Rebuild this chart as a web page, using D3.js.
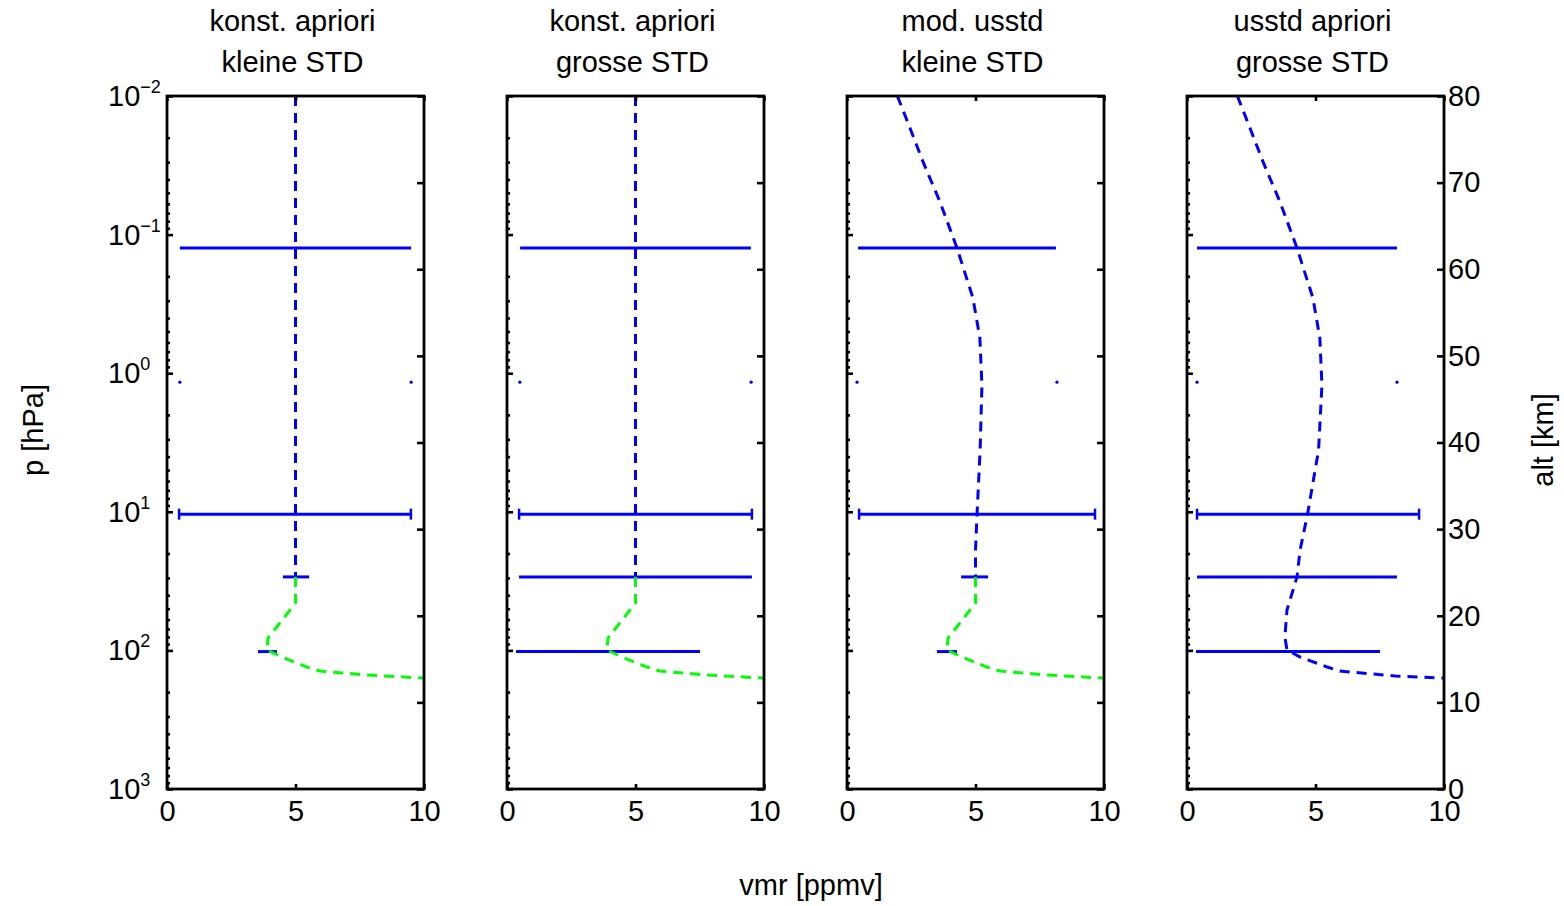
<!DOCTYPE html>
<html>
<head>
<meta charset="utf-8">
<script src="https://cdn.jsdelivr.net/npm/d3@7"></script>
<style>
  body { margin: 0; background: #fff; }
  text { font-family: "Liberation Sans", Arial, Helvetica, sans-serif; fill: #000; }
</style>
</head>
<body>
<svg id="chart" width="1564" height="906"></svg>
<script>
// ---- data -------------------------------------------------------------
const panelTitles = [
  ["konst. apriori", "kleine STD"],
  ["konst. apriori", "grosse STD"],
  ["mod. usstd", "kleine STD"],
  ["usstd apriori", "grosse STD"]
];
const vmrTicks = [0, 5, 10];
const pressureDecades = [0.01, 0.1, 1, 10, 100, 1000];
const decadeExponents = ["\u22122", "\u22121", "0", "1", "2", "3"];
const altTicks = [0, 10, 20, 30, 40, 50, 60, 70, 80];

// constant a-priori above the tropopause region (hPa, ppmv)
const constP   = [0.01, 29.5];
const constVmr = [5.0, 5.0];

// tropospheric part shared by the first three panels
const tropoP   = [29.5, 45.5, 81.4, 99.3, 111.6, 131.8, 140.9, 150.5, 158.3, 166];
const tropoVmr = [5.0, 5.0, 3.93, 3.89, 4.47, 5.45, 5.95, 7.78, 9.96, 11.5];

// US standard profile
const usstdP   = [0.01, 0.017, 0.0299, 0.0582, 0.125, 0.287, 0.557, 1.22, 3.58, 10.4, 18.9, 29.5, 51.1, 80.0, 99.3, 111.6, 131.8, 140.9, 153.1, 158.3, 166];
const usstdVmr = [1.96, 2.45, 2.96, 3.62, 4.28, 4.90, 5.17, 5.25, 5.12, 4.69, 4.40, 4.28, 3.89, 3.81, 3.89, 4.40, 5.45, 5.95, 8.10, 9.96, 11.5];

// modified US standard (held near 5 ppmv below 1 hPa)
const modP   = [0.01, 0.017, 0.0299, 0.0582, 0.125, 0.287, 0.557, 1.22, 3.58, 10.4, 18.9, 29.5];
const modVmr = [1.96, 2.45, 2.96, 3.62, 4.28, 4.90, 5.17, 5.25, 5.18, 5.06, 5.00, 5.00];

// error bars: pressure levels and lower / upper vmr per panel
const errP = [0.125, 1.16, 10.4, 29.5, 102];
const errKind = ["bar", "dot", "capped", "bar", "bar"];
const errLo = [
  [0.50, 0.50, 0.47, 4.51, 3.54],
  [0.51, 0.50, 0.47, 0.47, 0.35],
  [0.43, 0.39, 0.47, 4.44, 3.50],
  [0.39, 0.39, 0.39, 0.39, 0.35]
];
const errHi = [
  [9.50, 9.50, 9.49, 5.53, 4.28],
  [9.49, 9.50, 9.53, 9.53, 7.51],
  [8.13, 8.17, 9.65, 5.49, 4.28],
  [8.17, 8.17, 9.03, 8.17, 7.51]
];

// profile segments per panel: [pressures, values, colour]
const panelProfiles = [
  [[constP, constVmr, "#0000ff"], [tropoP, tropoVmr, "#00ff00"]],
  [[constP, constVmr, "#0000ff"], [tropoP, tropoVmr, "#00ff00"]],
  [[modP, modVmr, "#0000ff"],     [tropoP, tropoVmr, "#00ff00"]],
  [[usstdP, usstdVmr, "#0000ff"]]
];

// ---- layout -----------------------------------------------------------
const svg = d3.select("#chart");
const plotTop = 96, plotBottom = 789;
const panelLeft = [167, 507, 847, 1187];
const panelWidth = 257;
const fontSize = 29;

const y = d3.scaleLog().domain([0.01, 1000]).range([plotTop, plotBottom]);
const alt = d3.scaleLinear().domain([0, 80]).range([plotBottom, plotTop]);

const minorP = [];
for (let d = -2; d < 3; d++) for (let m = 2; m <= 9; m++) minorP.push(m * Math.pow(10, d));

svg.append("defs").selectAll("clipPath").data(panelLeft).join("clipPath")
  .attr("id", (d, i) => "clip" + i)
  .append("rect").attr("x", d => d).attr("y", plotTop).attr("width", panelWidth).attr("height", plotBottom - plotTop);

panelLeft.forEach((left, i) => {
  const x = d3.scaleLinear().domain([0, 10]).range([left, left + panelWidth]);
  const g = svg.append("g");

  // error bars
  const eb = g.append("g").attr("stroke", "#0000ff").attr("stroke-width", 3);
  errP.forEach((p, k) => {
    const yy = y(p), x0 = x(errLo[i][k]), x1 = x(errHi[i][k]);
    if (errKind[k] === "dot") {
      [x0, x1].forEach(xx => eb.append("circle").attr("cx", xx).attr("cy", yy).attr("r", 1.6)
        .attr("fill", "#0000ff").attr("stroke", "none"));
      return;
    }
    eb.append("line").attr("x1", x0).attr("x2", x1).attr("y1", yy).attr("y2", yy);
    if (errKind[k] === "capped") {
      [x0, x1].forEach(xx => eb.append("line").attr("x1", xx).attr("x2", xx)
        .attr("y1", yy - 5.5).attr("y2", yy + 5.5).attr("stroke-width", 2.5));
    }
  });

  // a-priori profiles
  const line = d3.line().x(d => x(d[1])).y(d => y(d[0]));
  const prof = g.append("g").attr("clip-path", `url(#clip${i})`);
  panelProfiles[i].forEach(([ps, vs, col]) => {
    prof.append("path")
      .attr("d", line(ps.map((p, k) => [p, vs[k]])))
      .attr("fill", "none").attr("stroke", col).attr("stroke-width", 3)
      .attr("stroke-dasharray", "10,7");
  });

  // box
  g.append("rect").attr("x", left).attr("y", plotTop).attr("width", panelWidth).attr("height", plotBottom - plotTop)
    .attr("fill", "none").attr("stroke", "#000").attr("stroke-width", 2.8);

  // left pressure axis (major + minor, ticks inward)
  const leftAx = g.append("g").attr("transform", `translate(${left},0)`)
    .call(d3.axisLeft(y).tickValues(pressureDecades).tickSizeInner(-6).tickSizeOuter(0).tickFormat(""));
  const leftMinor = g.append("g").attr("transform", `translate(${left},0)`)
    .call(d3.axisLeft(y).tickValues(minorP).tickSizeInner(-3).tickSizeOuter(0).tickFormat(""));

  // right altitude axis
  const rightAx = g.append("g").attr("transform", `translate(${left + panelWidth},0)`)
    .call(d3.axisRight(alt).tickValues(altTicks).tickSizeInner(-7).tickSizeOuter(0).tickPadding(4)
      .tickFormat(i === 3 ? d3.format("d") : ""));

  // top and bottom vmr axes
  const topAx = g.append("g").attr("transform", `translate(0,${plotTop})`)
    .call(d3.axisTop(x).tickValues(vmrTicks).tickSizeInner(-5).tickSizeOuter(0).tickFormat(""));
  const botAx = g.append("g").attr("transform", `translate(0,${plotBottom})`)
    .call(d3.axisBottom(x).tickValues(vmrTicks).tickSizeInner(-5).tickSizeOuter(0).tickPadding(11)
      .tickFormat(d3.format("d")));

  [leftAx, leftMinor, rightAx, topAx, botAx].forEach(a => {
    a.select(".domain").remove();
    a.selectAll("line").attr("stroke", "#000").attr("stroke-width", 2.6);
    a.attr("font-family", null).attr("font-size", fontSize);
    a.selectAll("text").attr("font-size", fontSize);
  });

  // decade labels with superscript exponents (first panel only)
  if (i === 0) {
    const lab = g.append("g");
    pressureDecades.forEach((p, k) => {
      const t = lab.append("text").attr("x", 108).attr("y", y(p) + 10).attr("font-size", fontSize);
      t.append("tspan").text("10");
      t.append("tspan").attr("font-size", 18).attr("dy", -13).text(decadeExponents[k]);
    });
  }

  // titles
  panelTitles[i].forEach((s, k) => {
    g.append("text").attr("x", left + panelWidth / 2 - 3).attr("y", 31 + k * 41)
      .attr("text-anchor", "middle").attr("font-size", fontSize).text(s);
  });
});

// axis labels
svg.append("text").attr("transform", "translate(43,430) rotate(-90)")
  .attr("text-anchor", "middle").attr("font-size", fontSize).text("p [hPa]");
svg.append("text").attr("transform", "translate(1553,440) rotate(-90)")
  .attr("text-anchor", "middle").attr("font-size", fontSize).text("alt [km]");
svg.append("text").attr("x", 811).attr("y", 895)
  .attr("text-anchor", "middle").attr("font-size", fontSize).text("vmr [ppmv]");
</script>
</body>
</html>
